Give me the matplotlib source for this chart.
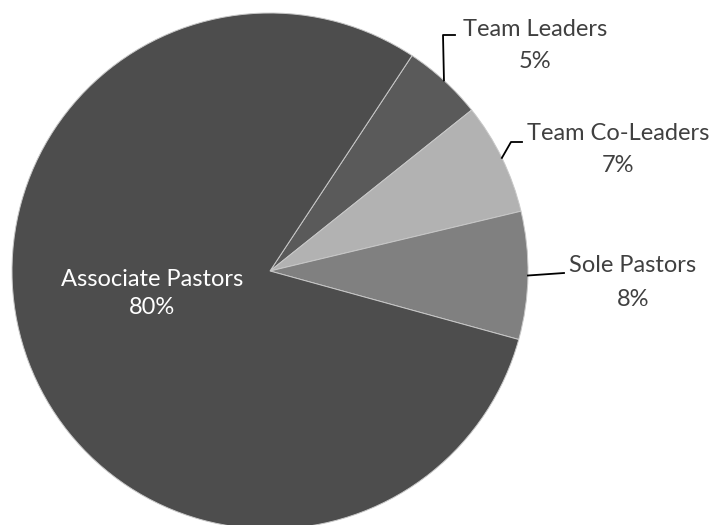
import numpy as np
import matplotlib
matplotlib.use("Agg")
import matplotlib.pyplot as plt

categories = ["Team Leaders", "Team Co-Leaders", "Sole Pastors", "Associate Pastors"]
shares = [5, 7, 8, 80]
colors = ["#5a5a5a", "#b2b2b2", "#808080", "#4d4d4d"]

W, H = 712, 525
fig = plt.figure(figsize=(W / 100, H / 100), dpi=100)
ax = fig.add_axes([0, 0, 1, 1])

cx, cy, r = 270, H - 271, 258
start = 56.6
wedges, _ = ax.pie(shares, colors=colors, startangle=start, counterclock=False,
                   center=(cx, cy), radius=r, frame=True,
                   wedgeprops=dict(edgecolor="#c8c8c8", linewidth=0.7))
ax.set_xlim(0, W)
ax.set_ylim(0, H)
ax.set_aspect("equal")
ax.axis("off")

font = "Lato"
fs = 17
txt = "#404040"

def edge_point(w):
    mid = np.deg2rad((w.theta1 + w.theta2) / 2)
    return cx + r * np.cos(mid), cy + r * np.sin(mid)

# label positions for the three small slices (name centre x, name y)
label_pos = {
    "Team Leaders": (535, H - 29),
    "Team Co-Leaders": (618, H - 133),
    "Sole Pastors": (633, H - 266),
}

for w, name, val in zip(wedges, categories, shares):
    if name == "Associate Pastors":
        ax.text(152, H - 279, name, color="white", fontsize=fs, family=font,
                ha="center", va="center")
        ax.text(152, H - 307, f"{val}%", color="white", fontsize=fs, family=font,
                ha="center", va="center")
        continue
    lx, ly = label_pos[name]
    ax.text(lx, ly, name, color=txt, fontsize=fs, family=font, ha="center", va="center")
    ax.text(lx, ly - 33, f"{val}%", color=txt, fontsize=fs, family=font,
            ha="center", va="center")

# leader lines
x0, y0 = edge_point(wedges[0])
ax.plot([x0, 443, 455], [y0, H - 35, H - 35], color="black", lw=1.3)
x1, y1 = edge_point(wedges[1])
ax.plot([x1, 511, 522], [y1, H - 142, H - 142], color="black", lw=1.3)
x2, y2 = edge_point(wedges[2])
ax.plot([x2, 564], [y2, H - 273], color="black", lw=1.3)

fig.savefig("out.png", dpi=100, facecolor="white")
